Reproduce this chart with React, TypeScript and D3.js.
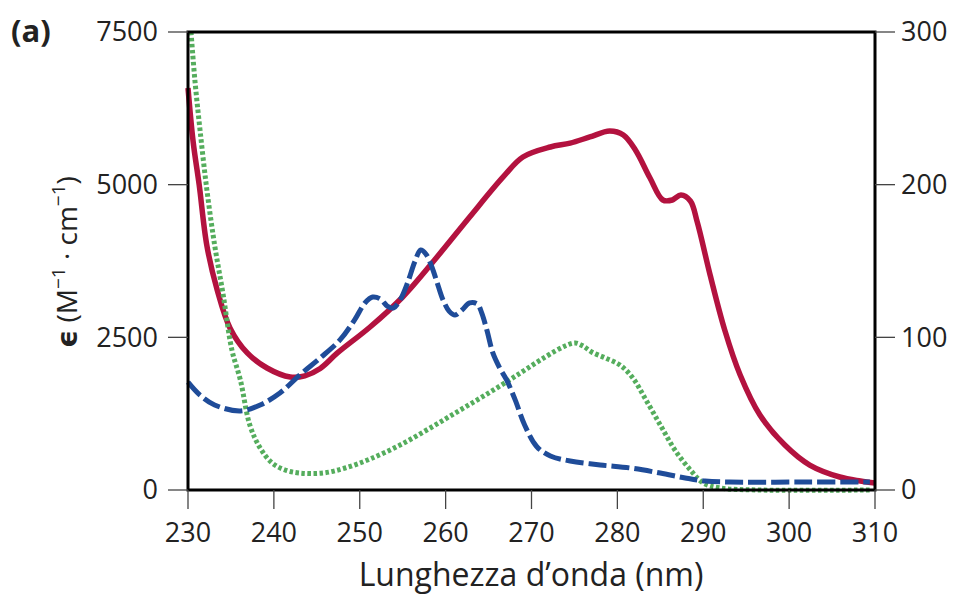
import React from 'react';
import * as d3 from 'd3';

// Axis ticks
const wavelengthTicks = [230, 240, 250, 260, 270, 280, 290, 300, 310];
const leftTicks = [0, 2500, 5000, 7500];
const rightTicks = [0, 100, 200, 300];

// Red (solid) curve, left axis
const redWl = [230, 230.6, 231.3, 232.2, 233.4, 234.9, 236.9, 239.2, 241.9, 243.6, 245.4, 247.4, 251.2, 255.0, 259.0, 262.8, 266.7, 269.0, 272.2, 274.5, 276.8, 279.1, 280.7, 282.1, 283.8, 285.3, 286.4, 287.4, 288.5, 289.3, 290.8, 292.5, 294.3, 296.6, 299.5, 302.4, 305.9, 308.3, 310];
const redEps = [6583, 5700, 5000, 4000, 3275, 2650, 2244, 1998, 1850, 1870, 1990, 2244, 2669, 3161, 3816, 4471, 5126, 5453, 5617, 5680, 5781, 5879, 5814, 5568, 5109, 4749, 4749, 4831, 4733, 4389, 3521, 2620, 1883, 1228, 737, 409, 213, 147, 115];

// Blue (dashed) curve, right axis
const blueWl = [230, 231.4, 233.1, 236.1, 238.4, 240.7, 243, 245.4, 247.7, 249.4, 250.6, 251.5, 252.4, 253.2, 253.9, 254.7, 255.6, 256.4, 257.1, 257.7, 258.4, 259.1, 259.7, 260.4, 261.1, 261.9, 262.8, 263.7, 264.2, 264.8, 265.5, 266.3, 267.1, 268.1, 269.2, 270.6, 272.2, 274.5, 278, 281.5, 285, 287.9, 290.2, 293.1, 301.3, 309.4];
const blueEps = [70.7, 62.2, 55.7, 51.8, 55.7, 63.5, 75.3, 86.5, 98.3, 111.4, 122.5, 126.4, 125.1, 120.5, 119.2, 124.5, 136.2, 149.4, 157.2, 154.6, 146.1, 134.3, 124.5, 117.2, 114.6, 117.9, 122.5, 121.8, 116, 104.8, 89.8, 79.9, 72.1, 59, 42.6, 28.5, 22.3, 19, 16.4, 14.4, 11.1, 7.9, 5.9, 5.2, 5.2, 5.2];

// Green (dotted) curve, left axis
const greenWl = [230.35, 230.8, 231.4, 232.2, 233.1, 234.1, 235.1, 236.1, 237.2, 238.4, 239.8, 241.3, 243, 245.7, 248.3, 251.2, 254.7, 258.2, 261.7, 265.2, 268.7, 271.6, 273.9, 275.1, 276, 277, 278.6, 280.3, 281.8, 283.2, 285, 286.7, 288.5, 290, 292, 296.6, 309.4];
const greenEps = [7500, 6714, 5895, 4913, 4012, 3193, 2300, 1801, 1064, 688, 442, 328, 278, 278, 360, 508, 737, 1015, 1310, 1605, 1916, 2178, 2358, 2407, 2358, 2260, 2162, 2047, 1834, 1507, 1064, 655, 328, 115, 33, 0, 0];

const W = 955;
const H = 597;
const left = 188, right = 875, top = 32, bottom = 490;
const FONT = '"Open Sans", "Noto Sans", "DejaVu Sans", sans-serif';

export default function App() {
  const x = d3.scaleLinear().domain([230, 310]).range([left, right]);
  const yL = d3.scaleLinear().domain([0, 7500]).range([bottom, top]);
  const yR = d3.scaleLinear().domain([0, 300]).range([bottom, top]);

  const mk = (wl: number[], v: number[], y: d3.ScaleLinear<number, number>) => {
    const line = d3.line<number>()
      .x((_, i) => x(wl[i]))
      .y((d) => y(d))
      .curve(d3.curveCatmullRom.alpha(0.5));
    return line(v) || '';
  };

  const redPath = mk(redWl, redEps, yL);
  const bluePath = mk(blueWl, blueEps, yR);
  const greenPath = mk(greenWl, greenEps, yL);

  return (
    <svg width={W} height={H} style={{ position: 'absolute', left: 0, top: 0, background: '#fff' }} fontFamily={FONT}>
      <defs>
        <clipPath id="plotclip">
          <rect x={150} y={top} width={760} height={bottom - top + 20} />
        </clipPath>
      </defs>

      {/* curves */}
      <g clipPath="url(#plotclip)" fill="none" strokeLinejoin="round">
        <path d={redPath} stroke="#b3123f" strokeWidth={5.5} strokeLinecap="butt" />
        <path d={greenPath} stroke="#55ad5d" strokeWidth={5} strokeDasharray="3.5 2.5" />
        <path d={bluePath} stroke="#1f4c99" strokeWidth={5} strokeDasharray="18 5" />
      </g>

      {/* frame */}
      <path d={`M${left},${top}H${right}V${bottom}H${left}Z`} fill="none" stroke="#000" strokeWidth={3} />

      {/* left ticks */}
      {leftTicks.map((t) => (
        <g key={'l' + t}>
          <line x1={left - 20} x2={left} y1={yL(t)} y2={yL(t)} stroke="#444" strokeWidth={1.3} />
          <text x={left - 30} y={yL(t)} dy="0.35em" textAnchor="end" fontSize={27} fill="#222">{t}</text>
        </g>
      ))}

      {/* right ticks */}
      {rightTicks.map((t) => (
        <g key={'r' + t}>
          <line x1={right} x2={right + 20} y1={yR(t)} y2={yR(t)} stroke="#444" strokeWidth={1.3} />
          <text x={right + 26} y={yR(t)} dy="0.35em" textAnchor="start" fontSize={27} fill="#222">{t}</text>
        </g>
      ))}

      {/* bottom ticks */}
      {wavelengthTicks.map((t) => (
        <g key={'b' + t}>
          <line x1={x(t)} x2={x(t)} y1={bottom} y2={bottom + 19} stroke="#444" strokeWidth={1.3} />
          <text x={x(t)} y={533} dy="0.35em" textAnchor="middle" fontSize={27} fill="#222">{t}</text>
        </g>
      ))}

      {/* x title */}
      <text x={531} y={586} textAnchor="middle" fontSize={32} fill="#222">Lunghezza d’onda (nm)</text>

      {/* y title */}
      <text transform="translate(77,262) rotate(-90)" textAnchor="middle" fontSize={28} fill="#222">
        <tspan fontWeight="bold" fontFamily='"DejaVu Sans", sans-serif'>ϵ</tspan>
        <tspan> (M</tspan>
        <tspan dy={-12} fontSize={19}>−1</tspan>
        <tspan dy={12}> · cm</tspan>
        <tspan dy={-12} fontSize={19}>−1</tspan>
        <tspan dy={12}>)</tspan>
      </text>

      {/* panel label */}
      <text x={11} y={42} fontSize={31} fontWeight="bold" fill="#222">(a)</text>
    </svg>
  );
}
